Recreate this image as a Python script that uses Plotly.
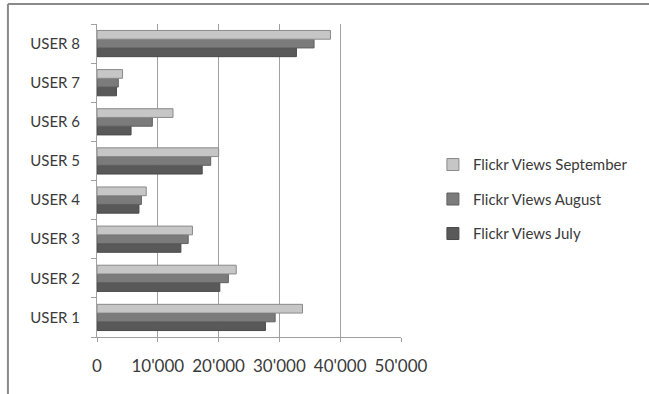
import plotly.graph_objects as go

users = ["USER 1", "USER 2", "USER 3", "USER 4", "USER 5", "USER 6", "USER 7", "USER 8"]
views_july = [27700, 20200, 13800, 6900, 17300, 5600, 3200, 32800]
views_august = [29300, 21600, 15000, 7300, 18700, 9100, 3500, 35700]
views_september = [33800, 22900, 15700, 8100, 20000, 12500, 4200, 38400]
x_ticks = [0, 10000, 20000, 30000, 40000, 50000]
x_tick_labels = ["0", "10'000", "20'000", "30'000", "40'000", "50'000"]

FONT = "Lato, Open Sans, sans-serif"

fig = go.Figure()
fig.add_trace(go.Bar(y=users, x=views_july, orientation="h", name="Flickr Views July",
                     legendgroup="jul", legendrank=3,
                     marker=dict(color="#595959", line=dict(color="#4a4a4a", width=1))))
fig.add_trace(go.Bar(y=users, x=views_august, orientation="h", name="Flickr Views August",
                     legendgroup="aug", legendrank=2,
                     marker=dict(color="#7b7b7b", line=dict(color="#606060", width=1))))
fig.add_trace(go.Bar(y=users, x=views_september, orientation="h", name="Flickr Views September",
                     legendgroup="sep", legendrank=1,
                     marker=dict(color="#c6c6c6", line=dict(color="#8a8a8a", width=1))))

fig.update_layout(
    width=649, height=394,
    barmode="group", bargap=0.33, bargroupgap=0,
    plot_bgcolor="white", paper_bgcolor="white",
    margin=dict(l=97, r=248, t=24, b=57),
    font=dict(family=FONT, size=15, color="#3a3a3a"),
    legend=dict(traceorder="grouped", x=1.105, y=0.44, xanchor="left", yanchor="middle",
                font=dict(size=15, color="#3a3a3a"), itemwidth=30, tracegroupgap=12,
                bgcolor="rgba(0,0,0,0)"),
    showlegend=True,
)
fig.update_xaxes(range=[0, 50000], tickvals=x_ticks, ticktext=x_tick_labels,
                 tickfont=dict(size=17),
                 showgrid=True, gridcolor="#a0a0a0", gridwidth=1,
                 showline=True, linecolor="#a0a0a0", linewidth=1,
                 ticks="outside", ticklen=4, tickcolor="#a0a0a0",
                 ticklabelstandoff=10, zeroline=False, fixedrange=True)
fig.update_yaxes(tickfont=dict(size=15),
                 showgrid=False, showline=True, linecolor="#a0a0a0", linewidth=1,
                 ticks="outside", ticklen=5, tickcolor="#a0a0a0", tickson="boundaries",
                 ticklabelstandoff=13, fixedrange=True)

# outer chart frame (top and left edges visible)
fig.add_shape(type="line", xref="paper", yref="paper", x0=-0.293, x1=1.9, y0=1.064, y1=1.064,
              line=dict(color="#8a8a8a", width=2))
fig.add_shape(type="line", xref="paper", yref="paper", x0=-0.293, x1=-0.293, y0=1.064, y1=-0.2,
              line=dict(color="#8a8a8a", width=2))

fig.write_html("out.html")
